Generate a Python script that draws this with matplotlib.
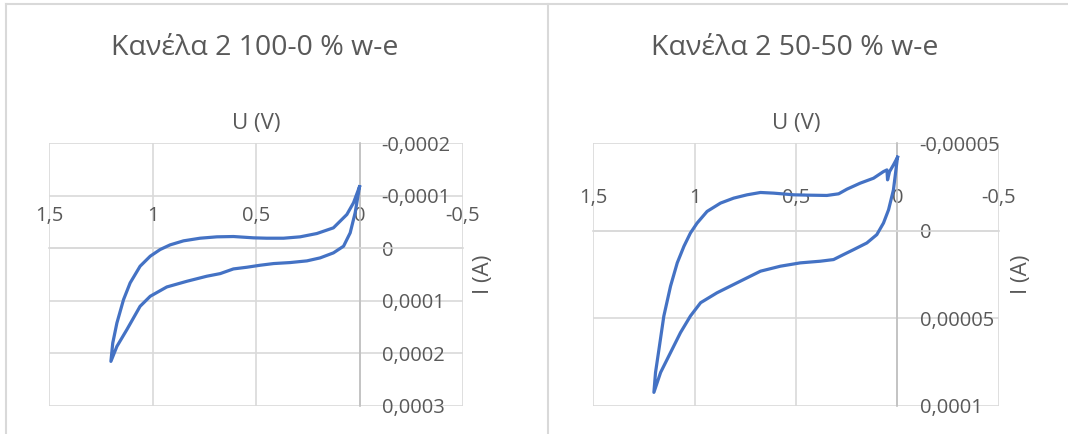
import numpy as np
import matplotlib
import matplotlib.pyplot as plt
from matplotlib.lines import Line2D

matplotlib.use('Agg')

plt.rcParams['font.family'] = ['Open Sans', 'DejaVu Sans']

# chart 1: Κανέλα 2 100-0 % w-e  (U in V, I in A)
u_100 = [0.000, 0.029, 0.061, 0.126, 0.206, 0.287, 0.367, 0.448, 0.512, 0.609, 0.689,
         0.770, 0.850, 0.915, 0.963, 1.011, 1.060, 1.108, 1.140, 1.172, 1.192, 1.201,
         1.172, 1.124, 1.060, 1.011, 0.931, 0.834, 0.738, 0.673, 0.609, 0.544, 0.480,
         0.415, 0.335, 0.254, 0.190, 0.126, 0.077, 0.045, 0.021, 0.000]
i_100 = [-1.168, -0.863, -0.641, -0.387, -0.279, -0.216, -0.190, -0.190, -0.197, -0.222, -0.216,
         -0.190, -0.140, -0.063, 0.025, 0.152, 0.343, 0.660, 0.978, 1.422, 1.803, 2.152,
         1.867, 1.549, 1.105, 0.914, 0.737, 0.629, 0.533, 0.483, 0.394, 0.362, 0.324,
         0.292, 0.273, 0.241, 0.184, 0.089, -0.038, -0.292, -0.673, -1.168]
i_100 = [v * 1e-4 for v in i_100]

# chart 2: Κανέλα 2 50-50 % w-e
u_50 = [0.000, 0.020, 0.039, 0.049, 0.052, 0.069, 0.118, 0.184, 0.249, 0.290, 0.348,
        0.446, 0.511, 0.610, 0.675, 0.741, 0.807, 0.872, 0.938, 0.987, 1.020, 1.052,
        1.085, 1.118, 1.151, 1.175, 1.192, 1.200,
        1.167, 1.118, 1.069, 1.020, 0.970, 0.889, 0.774, 0.675, 0.577, 0.479, 0.380,
        0.315, 0.266, 0.216, 0.151, 0.102, 0.069, 0.044, 0.020, 0.000]
i_50 = [-4.186, -3.750, -3.371, -2.898, -3.466, -3.371, -2.992, -2.708, -2.367, -2.102, -2.008,
        -2.027, -2.045, -2.140, -2.178, -2.045, -1.856, -1.572, -1.098, -0.436, 0.133, 0.890,
        1.837, 3.163, 4.867, 6.761, 8.087, 9.223,
        8.087, 6.951, 5.814, 4.867, 4.110, 3.542, 2.879, 2.311, 2.027, 1.837, 1.742,
        1.648, 1.364, 1.080, 0.701, 0.227, -0.436, -1.193, -2.330, -4.186]
i_50 = [v * 1e-5 for v in i_50]

titles = ['Κανέλα 2 100-0 % w-e', 'Κανέλα 2 50-50 % w-e']
x_ticks = [1.5, 1.0, 0.5, 0.0, -0.5]
x_tick_labels = ['1,5', '1', '0,5', '0', '-0,5']
y_ticks_100 = [-0.0002, -0.0001, 0.0, 0.0001, 0.0002, 0.0003]
y_tick_labels_100 = ['-0,0002', '-0,0001', '0', '0,0001', '0,0002', '0,0003']
y_ticks_50 = [-0.00005, 0.0, 0.00005, 0.0001]
y_tick_labels_50 = ['-0,00005', '0', '0,00005', '0,0001']

W, H = 1068, 434
TXT = '#595959'
GRID = '#d9d9d9'
AXIS = '#bfbfbf'
LINE = '#4472C4'

fig = plt.figure(figsize=(W / 100, H / 100), dpi=100)
fig.patch.set_facecolor('white')


def px_rect(x0, y0, x1, y1):
    return [x0 / W, 1 - y1 / H, (x1 - x0) / W, (y1 - y0) / H]


def draw_panel(rect, u, i, yticks, ylabels, title, tcx, ucx, icx):
    ax = fig.add_axes(rect)
    ax.plot(u, i, color=LINE, linewidth=2.3, solid_joinstyle='round', zorder=3)
    ax.set_xlim(1.5, -0.5)
    ax.set_ylim(yticks[-1], yticks[0])
    ax.set_xticks(x_ticks)
    ax.set_xticklabels(x_tick_labels)
    ax.set_yticks(yticks)
    ax.set_yticklabels(ylabels, ha='left')
    ax.grid(True, color=GRID, linewidth=1.2)
    ax.set_axisbelow(True)
    for s in ['left', 'bottom']:
        ax.spines[s].set_visible(False)
    ax.spines['top'].set_position(('data', 0))
    ax.spines['top'].set_color(GRID)
    ax.spines['top'].set_linewidth(1.2)
    ax.spines['right'].set_position(('data', 0))
    ax.spines['right'].set_color(AXIS)
    ax.spines['right'].set_linewidth(1.2)
    ax.xaxis.tick_top()
    ax.yaxis.tick_right()
    ax.tick_params(axis='x', length=0, pad=16, labelsize=14.5, colors=TXT)
    ax.tick_params(axis='y', length=0, pad=16, labelsize=14.5, colors=TXT)
    fig.text(tcx / W, 1 - 48 / H, title, ha='center', va='center', fontsize=20.5, color=TXT)
    fig.text(ucx / W, 1 - 124 / H, 'U (V)', ha='center', va='center', fontsize=16, color=TXT)
    fig.text(icx / W, 1 - 274 / H, 'I (A)', ha='center', va='center', fontsize=16,
             color=TXT, rotation=90)
    return ax


draw_panel(px_rect(49, 143, 463, 406), u_100, i_100, y_ticks_100, y_tick_labels_100,
           titles[0], 255, 256, 483)
draw_panel(px_rect(593, 143, 999, 406), u_50, i_50, y_ticks_50, y_tick_labels_50,
           titles[1], 795, 796, 1022)

# chart frames
fig.add_artist(Line2D([6 / W, 1], [1 - 4 / H, 1 - 4 / H], color=GRID, linewidth=1.5))
fig.add_artist(Line2D([6 / W, 6 / W], [0, 1 - 4 / H], color=GRID, linewidth=1.5))
fig.add_artist(Line2D([548 / W, 548 / W], [0, 1 - 4 / H], color=GRID, linewidth=1.5))

fig.savefig('out.png', dpi=100)
